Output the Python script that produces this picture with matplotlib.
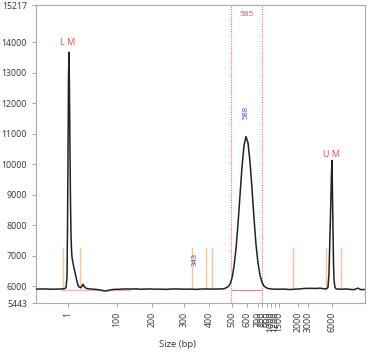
import matplotlib
matplotlib.use("Agg")
import matplotlib.pyplot as plt

# ---- data (migration position units vs fluorescence) ----
trace_x = [36, 45, 52, 58, 62, 64, 66, 67, 67.5, 68, 68.5, 69, 69.5, 70, 70.5, 71, 71.5, 72, 73, 74, 75, 76, 77, 78, 79, 81, 82, 83, 84, 86, 88, 92, 96, 100, 103, 105, 107, 110, 114, 120, 126, 132, 136, 140, 146, 150, 156, 160, 166, 170, 176, 180, 186, 190, 196, 200, 206, 210, 216, 220, 224,
           226, 228, 230, 232, 234, 236, 238, 240, 242, 244, 246, 248, 250, 252, 254, 256, 258, 260, 262, 264, 266, 268, 272, 278, 284, 290, 296, 300, 304, 310, 316, 320, 324, 326, 327, 328, 329, 330, 330.5, 331, 331.5, 332, 332.5, 333, 333.5, 334, 335, 336, 338, 342, 346, 350, 354, 356, 358, 360, 362, 365]
trace_y = [5900, 5905, 5895, 5900, 5905, 5910, 5940, 6300, 7800, 10200, 12800, 13670, 12300, 10400, 8800, 7700, 7200, 6950, 6750, 6600, 6450, 6300, 6150, 6030, 5970, 5950, 6000, 6060, 5990, 5930, 5910, 5900, 5890, 5870, 5850, 5835, 5845, 5870, 5890, 5895, 5905, 5900, 5910, 5895, 5900, 5905, 5895, 5900, 5890, 5900, 5905, 5900, 5895, 5900, 5890, 5900, 5905, 5900, 5900, 5905, 5910,
           5940, 5975, 6060, 6260, 6640, 7220, 8020, 8970, 9900, 10600, 10900, 10700, 10080, 9200, 8230, 7360, 6760, 6360, 6120, 6000, 5950, 5920, 5900, 5895, 5900, 5885, 5900, 5905, 5920, 5925, 5920, 5930, 5910, 5905, 5920, 5960, 6400, 7700, 8300, 9000, 9700, 10120, 9000, 7900, 6800, 6200, 5960, 5910, 5900, 5895, 5905, 5890, 5880, 5910, 5930, 5895, 5880, 5890]

ladder_sizes = ["1", "100", "200", "300", "400", "500", "600", "700", "800", "900", "1000", "1200", "1500", "2000", "3000", "6000"]
ladder_pos = [68, 117, 152, 184, 209, 232, 247, 258, 262, 267, 271, 275, 279, 298, 308, 332]

peak_marker_pos = [63, 80, 192, 206, 212, 293, 326, 341]
peak_marker_top = 7250

region_bounds = [231, 262]
region_label = "585"

marker_labels = ["L M", "U M"]
marker_label_pos = [(68, 14000), (332, 10330)]

size_labels = ["343", "588"]
size_label_pos = [(195, 6860), (246, 11700)]

y_ticks = [5443, 6000, 7000, 8000, 9000, 10000, 11000, 12000, 13000, 14000, 15217]
y_min, y_max = 5443, 15217
baseline = 5895

# ---- figure ----
plt.rcParams['font.family'] = ['Open Sans', 'DejaVu Sans']
fig = plt.figure(figsize=(3.73, 3.53), dpi=100)
ax = fig.add_axes([0.0965, 0.1416, 0.882, 0.8442])

red = '#e8474a'
orange = '#f7c58e'

for xp in peak_marker_pos:
    ax.plot([xp, xp], [baseline, peak_marker_top], color=orange, lw=1.0, zorder=1)

for xb in region_bounds:
    ax.axvline(xb, color='#ee6a6a', lw=0.8, ls=(0, (1, 1.2)), zorder=1)

ax.plot([62, 130], [5880, 5880], color='#f4b4b4', lw=1.0, zorder=1)
ax.plot(region_bounds, [5880, 5880], color='#f08080', lw=0.8, zorder=1)

ax.plot(trace_x, trace_y, color='#222222', lw=1.1, zorder=3)

ax.text(sum(region_bounds) / 2, 14900, region_label, color=red, fontsize=6, ha='center', va='center')
for lab, (xx, yy) in zip(marker_labels, marker_label_pos):
    ax.text(xx, yy, lab, color=red, fontsize=6.5, ha='center', va='center')
for lab, (xx, yy) in zip(size_labels, size_label_pos):
    ax.text(xx, yy, lab, color='#3a44d8', fontsize=5.5, ha='center', va='center', rotation=90)

ax.set_xlim(36, 365)
ax.set_ylim(y_min, y_max)
ax.set_yticks(y_ticks)
ax.set_yticklabels([str(v) for v in y_ticks])
ax.set_xticks(ladder_pos)
ax.set_xticklabels(ladder_sizes, rotation=90)
ax.tick_params(axis='both', colors='#999999', labelcolor='#333333', labelsize=6.3, length=3, width=0.6, direction='out')
for s in ax.spines.values():
    s.set_color('#aaaaaa')
    s.set_linewidth(0.8)
ax.set_xlabel('Size (bp)', fontsize=6.8, color='#333333')
ax.xaxis.set_label_coords(0.43, -0.125)

fig.savefig('out.png', dpi=100)
